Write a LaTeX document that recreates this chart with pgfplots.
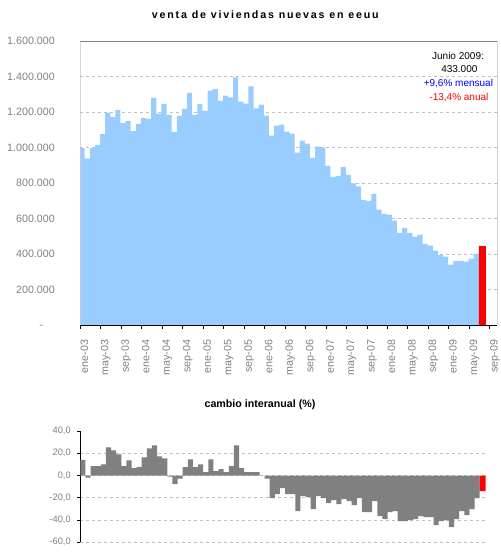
\documentclass[border=0pt]{standalone}
\usepackage{fontspec}
\setmainfont{Liberation Sans}
\usepackage{pgfplots}
\pgfplotsset{compat=1.18}
\definecolor{barblue}{RGB}{153,204,255}
\definecolor{gridgray}{RGB}{192,192,192}
\definecolor{labgray}{RGB}{128,128,128}
\definecolor{bargray}{RGB}{128,128,128}
\definecolor{framegray}{RGB}{128,128,128}

\begin{document}
\begin{tikzpicture}
\path[use as bounding box] (0pt,0pt) rectangle (375pt,-414.75pt);
% ---------------- top panel ----------------
\begin{axis}[
  at={(60.225pt,-243.75pt)}, anchor=south west,
  scale only axis, width=312.75pt, height=212.8pt,
  xmin=0, xmax=81.45, ymin=0, ymax=1600000,
  axis line style={draw=none},
  ymajorgrids,
  grid style={gridgray, dash pattern=on 2.25pt off 2.25pt, line width=0.75pt},
  scaled y ticks=false,
  ytick={0,200000,400000,600000,800000,1000000,1200000,1400000,1600000},
  yticklabels={{-\phantom{00}},{200.000},{400.000},{600.000},{800.000},{1.000.000},{1.200.000},{1.400.000},{1.600.000}},
  xtick={0,4,...,80},
  xticklabels={ene-03,may-03,sep-03,ene-04,may-04,sep-04,ene-05,may-05,sep-05,ene-06,may-06,sep-06,ene-07,may-07,sep-07,ene-08,may-08,sep-08,ene-09,may-09,sep-09},
  xtick pos=bottom, ytick pos=left, tick align=outside,
  major tick length=3pt,
  ytick style={draw=none},
  xtick style={black, line width=0.75pt},
  tick label style={font=\fontsize{8}{9}\selectfont, text=labgray},
  yticklabel style={anchor=east, inner sep=0pt, xshift=-16pt},
  xticklabel style={rotate=90, anchor=north east, inner sep=0pt},
  xticklabel shift=8pt,
]
\addplot[draw=none, fill=barblue, const plot mark left] coordinates {
(0,998000) (0.85,938000) (1.85,998000) (2.85,1015000) (3.85,1077000)
(4.85,1198000) (5.85,1174000) (6.85,1213000) (7.85,1140000) (8.85,1151000)
(9.85,1094000) (10.85,1134000) (11.85,1168000) (12.85,1162000) (13.85,1281000)
(14.85,1192000) (15.85,1247000) (16.85,1185000) (17.85,1089000) (18.85,1179000)
(19.85,1219000) (20.85,1309000) (21.85,1185000) (22.85,1247000) (23.85,1208000)
(24.85,1321000) (25.85,1332000) (26.85,1264000) (27.85,1294000) (28.85,1283000)
(29.85,1396000) (30.85,1260000) (31.85,1249000) (32.85,1345000) (33.85,1221000)
(34.85,1243000) (35.85,1181000) (36.85,1068000) (37.85,1124000) (38.85,1130000)
(39.85,1091000) (40.85,1079000) (41.85,972000) (42.85,1040000) (43.85,1023000)
(44.85,943000) (45.85,1006000) (46.85,1000000) (47.85,898000) (48.85,836000)
(49.85,841000) (50.85,892000) (51.85,847000) (52.85,799000) (53.85,782000)
(54.85,706000) (55.85,700000) (56.85,740000) (57.85,650000) (58.85,627000)
(59.85,622000) (60.85,588000) (61.85,520000) (62.85,548000) (63.85,520000)
(64.85,498000) (65.85,509000) (66.85,458000) (67.85,447000) (68.85,419000)
(69.85,396000) (70.85,385000) (71.85,340000) (72.85,362000) (73.85,362000)
(74.85,357000) (75.85,374000) (76.85,402000) (77.85,402000)
} \closedcycle;
\addplot[draw=none, fill=red, const plot mark left] coordinates {
(77.85,445000) (79.2,445000)
} \closedcycle;
\draw[gridgray, line width=0.75pt] (rel axis cs:0,0) -- (rel axis cs:0,1);
\draw[framegray, line width=0.75pt] (rel axis cs:0,1) -- (rel axis cs:1,1) -- (rel axis cs:1,0);
\draw[black, line width=0.75pt] ([xshift=-3pt]rel axis cs:0,0) -- (rel axis cs:1,0);
\end{axis}
% ---------------- bottom panel ----------------
\begin{axis}[
  at={(60.225pt,-406.725pt)}, anchor=south west,
  scale only axis, width=303.9pt, height=83.475pt,
  xmin=0, xmax=79.14, ymin=-60, ymax=40,
  axis x line=none, axis y line*=left,
  axis line style={black, line width=0.75pt, -},
  ymajorgrids,
  grid style={gridgray, dash pattern=on 2.25pt off 2.25pt, line width=0.75pt},
  ytick={-60,-40,-20,0,20},
  yticklabels={{-60,0},{-40,0},{-20,0},{0,0},{20,0}},
  extra y ticks={40},
  extra y tick labels={40{,}0},
  extra y tick style={grid=none},
  tick align=outside,
  major tick length=2.25pt,
  ytick style={black, line width=0.75pt},
  tick label style={font=\fontsize{7}{8}\selectfont, text=labgray},
  yticklabel style={anchor=east, inner sep=0pt, xshift=-4.7pt},
]
\addplot[draw=none, fill=bargray, const plot mark left] coordinates {
(0,14.0) (1,-1.8) (2,8.4) (3,8.4) (4,10.1) (5,25.4) (6,22.7) (7,19.1) (8,8.4) (9,13.7)
(10,6.6) (11,7.5) (12,16.4) (13,24.5) (14,27.2) (15,17.3) (16,15.5) (17,-0.9) (18,-7.8) (19,-2.7)
(20,7.5) (21,14.6) (22,7.5) (23,10.1) (24,3.0) (25,14.6) (26,3.9) (27,5.7) (28,3.0) (29,8.4)
(30,27.2) (31,6.6) (32,3.0) (33,3.0) (34,3.0) (35,0) (36,-2.7) (37,-20.3) (38,-16.7) (39,-11.3)
(40,-16.7) (41,-16.7) (42,-31.9) (43,-18.5) (44,-19.4) (45,-30.1) (46,-18.5) (47,-20.3) (48,-24.8) (49,-22.1)
(50,-25.7) (51,-21.2) (52,-23.0) (53,-26.6) (54,-20.3) (55,-32.8) (56,-32.8) (57,-23.0) (58,-36.4) (59,-39.1)
(60,-32.8) (61,-31.9) (62,-40.9) (63,-40.9) (64,-40.0) (65,-39.1) (66,-36.4) (67,-37.3) (68,-37.3) (69,-44.5)
(70,-40.9) (71,-40.0) (72,-46.3) (73,-39.1) (74,-31.9) (75,-35.5) (76,-30.1) (77,-20.3) (78,-20.3)
} \closedcycle;
\addplot[draw=none, fill=red, const plot mark left] coordinates {
(78,-14.0) (79.14,-14.0)
} \closedcycle;
\end{axis}
% ---------------- texts ----------------
\node[font=\fontsize{8}{9}\selectfont\bfseries\addfontfeature{LetterSpace=17}, inner sep=0pt] at (199pt,-11.25pt) {venta de viviendas nuevas en eeuu};
\node[font=\fontsize{8}{9}\selectfont\bfseries, inner sep=0pt] at (195pt,-303.75pt) {cambio interanual (\%)};
\node[font=\fontsize{7.5}{9}\selectfont, inner sep=0pt] at (343.5pt,-41.8pt) {Junio 2009:};
\node[font=\fontsize{7.5}{9}\selectfont, inner sep=0pt] at (344.5pt,-52pt) {433.000};
\node[font=\fontsize{7.5}{9}\selectfont, inner sep=0pt, text=blue] at (343.8pt,-62.5pt) {+9,6\% mensual};
\node[font=\fontsize{7.5}{9}\selectfont, inner sep=0pt, text=red] at (344.2pt,-73.3pt) {-13,4\% anual};
\end{tikzpicture}
\end{document}
